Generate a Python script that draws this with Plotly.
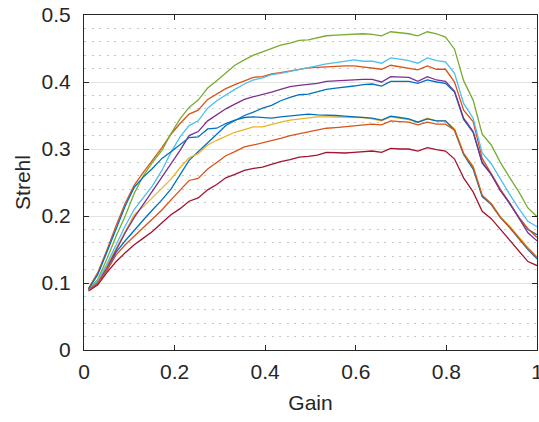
import plotly.graph_objects as go

gain = [0.010, 0.030, 0.050, 0.071, 0.091, 0.111, 0.131, 0.151, 0.172, 0.192,
        0.212, 0.232, 0.252, 0.273, 0.293, 0.313, 0.333, 0.354, 0.374, 0.394,
        0.414, 0.434, 0.455, 0.475, 0.495, 0.515, 0.535, 0.556, 0.576, 0.596,
        0.616, 0.636, 0.657, 0.677, 0.697, 0.717, 0.737, 0.758, 0.778, 0.798,
        0.818, 0.838, 0.859, 0.879, 0.899, 0.919, 0.939, 0.960, 0.980, 1.000]

blue_a = [0.090, 0.098, 0.118, 0.146, 0.163, 0.179, 0.194, 0.209, 0.224, 0.240,
          0.262, 0.283, 0.296, 0.310, 0.322, 0.335, 0.342, 0.350, 0.355, 0.361,
          0.365, 0.372, 0.377, 0.381, 0.382, 0.385, 0.389, 0.391, 0.392, 0.394,
          0.396, 0.397, 0.394, 0.401, 0.401, 0.401, 0.398, 0.403, 0.400, 0.398,
          0.385, 0.344, 0.325, 0.279, 0.262, 0.239, 0.219, 0.198, 0.180, 0.172]

orange_a = [0.092, 0.115, 0.148, 0.186, 0.219, 0.246, 0.265, 0.283, 0.302, 0.322,
            0.338, 0.352, 0.358, 0.374, 0.382, 0.390, 0.396, 0.402, 0.407, 0.408,
            0.412, 0.414, 0.417, 0.419, 0.421, 0.422, 0.423, 0.424, 0.424, 0.424,
            0.422, 0.421, 0.419, 0.425, 0.423, 0.421, 0.418, 0.424, 0.419, 0.419,
            0.400, 0.358, 0.341, 0.286, 0.262, 0.240, 0.220, 0.198, 0.181, 0.168]

yellow = [0.090, 0.102, 0.125, 0.152, 0.178, 0.202, 0.214, 0.227, 0.241, 0.255,
          0.272, 0.287, 0.293, 0.306, 0.313, 0.319, 0.325, 0.329, 0.333, 0.333,
          0.337, 0.340, 0.343, 0.345, 0.347, 0.348, 0.348, 0.348, 0.348, 0.348,
          0.347, 0.345, 0.342, 0.348, 0.346, 0.344, 0.340, 0.346, 0.342, 0.342,
          0.330, 0.294, 0.274, 0.230, 0.219, 0.199, 0.185, 0.168, 0.153, 0.139]

purple = [0.090, 0.100, 0.122, 0.150, 0.175, 0.198, 0.217, 0.237, 0.258, 0.278,
          0.298, 0.320, 0.326, 0.342, 0.351, 0.360, 0.367, 0.374, 0.378, 0.381,
          0.385, 0.389, 0.393, 0.395, 0.396, 0.398, 0.401, 0.402, 0.403, 0.403,
          0.404, 0.404, 0.400, 0.408, 0.407, 0.407, 0.401, 0.408, 0.403, 0.401,
          0.386, 0.346, 0.326, 0.280, 0.262, 0.238, 0.220, 0.198, 0.175, 0.163]

green = [0.090, 0.105, 0.135, 0.170, 0.200, 0.234, 0.260, 0.280, 0.298, 0.323,
         0.345, 0.362, 0.373, 0.391, 0.402, 0.413, 0.425, 0.433, 0.440, 0.445,
         0.450, 0.455, 0.458, 0.462, 0.463, 0.466, 0.469, 0.470, 0.471, 0.472,
         0.472, 0.471, 0.469, 0.475, 0.474, 0.472, 0.469, 0.475, 0.472, 0.467,
         0.449, 0.402, 0.373, 0.322, 0.306, 0.280, 0.258, 0.236, 0.212, 0.199]

light_blue = [0.090, 0.103, 0.128, 0.158, 0.185, 0.210, 0.228, 0.245, 0.268, 0.295,
              0.318, 0.335, 0.342, 0.361, 0.372, 0.381, 0.389, 0.397, 0.403, 0.406,
              0.411, 0.413, 0.416, 0.419, 0.421, 0.424, 0.427, 0.429, 0.431, 0.433,
              0.431, 0.431, 0.428, 0.436, 0.434, 0.432, 0.428, 0.436, 0.432, 0.430,
              0.413, 0.368, 0.346, 0.294, 0.278, 0.255, 0.233, 0.211, 0.192, 0.184]

dark_red = [0.088, 0.097, 0.115, 0.132, 0.145, 0.157, 0.167, 0.177, 0.190, 0.202,
            0.211, 0.222, 0.227, 0.239, 0.247, 0.257, 0.262, 0.268, 0.271, 0.273,
            0.277, 0.281, 0.284, 0.288, 0.289, 0.291, 0.295, 0.294, 0.294, 0.295,
            0.296, 0.297, 0.295, 0.301, 0.300, 0.300, 0.297, 0.302, 0.299, 0.297,
            0.285, 0.257, 0.236, 0.207, 0.196, 0.180, 0.165, 0.148, 0.132, 0.126]

blue_b = [0.091, 0.112, 0.145, 0.182, 0.215, 0.243, 0.258, 0.271, 0.286, 0.296,
          0.306, 0.317, 0.318, 0.330, 0.331, 0.338, 0.343, 0.347, 0.348, 0.347,
          0.346, 0.348, 0.349, 0.350, 0.352, 0.351, 0.351, 0.350, 0.349, 0.348,
          0.347, 0.346, 0.343, 0.349, 0.347, 0.345, 0.340, 0.345, 0.342, 0.342,
          0.328, 0.292, 0.270, 0.229, 0.217, 0.198, 0.183, 0.166, 0.150, 0.136]

orange_b = [0.090, 0.100, 0.118, 0.142, 0.157, 0.170, 0.182, 0.196, 0.209, 0.224,
            0.239, 0.253, 0.256, 0.270, 0.280, 0.290, 0.296, 0.303, 0.306, 0.309,
            0.313, 0.316, 0.320, 0.323, 0.326, 0.328, 0.331, 0.332, 0.333, 0.334,
            0.336, 0.337, 0.336, 0.342, 0.341, 0.340, 0.336, 0.340, 0.337, 0.337,
            0.328, 0.293, 0.273, 0.231, 0.218, 0.198, 0.184, 0.167, 0.151, 0.138]

series = [blue_a, orange_a, yellow, purple, green, light_blue, dark_red, blue_b, orange_b]
colors = ["#0072BD", "#D95319", "#EDB120", "#7E2F8E", "#77AC30",
          "#4DBEEE", "#A2142F", "#0072BD", "#D95319"]

x_ticks = [0, 0.2, 0.4, 0.6, 0.8, 1]
x_tick_text = ["0", "0.2", "0.4", "0.6", "0.8", "1"]
y_ticks = [0, 0.1, 0.2, 0.3, 0.4, 0.5]
y_tick_text = ["0", "0.1", "0.2", "0.3", "0.4", "0.5"]

fig = go.Figure()
for s, c in zip(series, colors):
    fig.add_trace(go.Scatter(x=gain, y=s, mode="lines",
                             line=dict(color=c, width=1.3),
                             showlegend=False, hoverinfo="skip"))

axis_color = "#262626"
font = dict(family="Liberation Sans, Arial, sans-serif", size=21, color=axis_color)

fig.update_layout(
    width=539, height=422,
    margin=dict(l=84, r=2, t=15, b=72),
    paper_bgcolor="white", plot_bgcolor="white",
    font=font,
    showlegend=False,
)
fig.update_xaxes(
    range=[0, 1], tickvals=x_ticks, ticktext=x_tick_text,
    showline=True, linecolor=axis_color, linewidth=1, mirror="allticks",
    ticks="inside", ticklen=5, tickcolor=axis_color,
    showgrid=False, zeroline=False,
    title=dict(text="Gain", standoff=13, font=font),
    automargin=False, ticklabelstandoff=3, ticklabeloverflow="allow",
)
fig.update_yaxes(
    range=[0, 0.5], tickvals=y_ticks, ticktext=y_tick_text,
    showline=True, linecolor=axis_color, linewidth=1, mirror="allticks",
    ticks="inside", ticklen=5, tickcolor=axis_color,
    showgrid=True, gridcolor="#e3e3e3", gridwidth=1, zeroline=False,
    minor=dict(dtick=0.02, tick0=0, showgrid=True, gridcolor="#c8c8c8",
               griddash="2px,5.5px", gridwidth=1, ticks=""),
    title=dict(text="Strehl", standoff=5, font=font),
    automargin=False, ticklabelstandoff=8, ticklabeloverflow="allow",
)

# remove the default page margin and scrollbars so the figure fills the window
page_fix = "document.body.style.margin='0';document.body.style.overflow='hidden';"
fig.write_html("out.html", post_script=page_fix, config={"displayModeBar": False})
